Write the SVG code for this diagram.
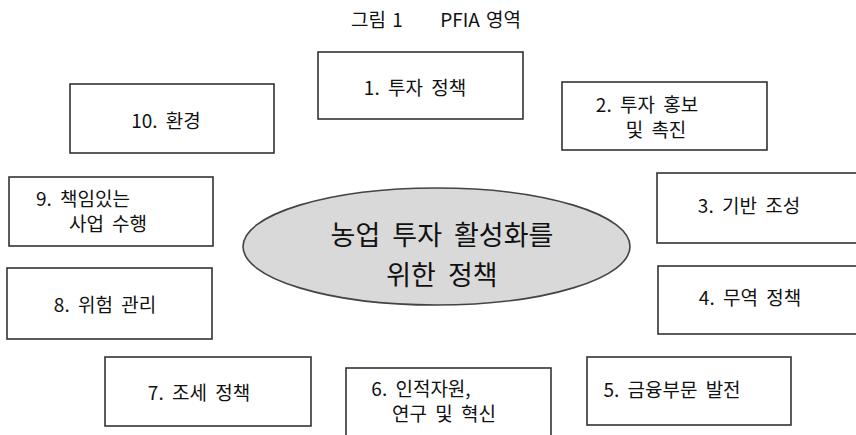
<svg xmlns="http://www.w3.org/2000/svg" width="856" height="435" viewBox="0 0 856 435">
<style>
.box{fill:#fff;stroke:#333;stroke-width:1.6}
.t{font-family:"Noto Sans CJK KR","Noto Sans",sans-serif;font-size:19px;fill:#111;text-anchor:middle;word-spacing:4px}
.c{font-size:27px;word-spacing:6px}
</style>
<rect width="856" height="435" fill="#fff"/>
<text class="t" x="436" y="27" style="font-size:19px;word-spacing:2px" xml:space="preserve">그림 1      PFIA 영역</text>
<g id="center">
<ellipse cx="436.5" cy="246.5" rx="193.5" ry="58.5" fill="#d9d9d9" stroke="#444" stroke-width="1.6"/>
<text class="t c" x="442" y="245">농업 투자 활성화를</text>
<text class="t c" x="442" y="285">위한 정책</text>
</g>
<g id="n1"><rect class="box" x="318" y="52" width="205" height="67"/><text class="t" x="415" y="95">1. 투자 정책</text></g>
<g id="n2"><rect class="box" x="562" y="82" width="205" height="68"/><text class="t" x="647" y="112">2. 투자 홍보</text><text class="t" x="656" y="137">및 촉진</text></g>
<g id="n3"><rect class="box" x="657" y="173" width="215" height="70"/><text class="t" x="749" y="213">3. 기반 조성</text></g>
<g id="n4"><rect class="box" x="658" y="266" width="215" height="68"/><text class="t" x="750" y="305">4. 무역 정책</text></g>
<g id="n5"><rect class="box" x="587" y="357" width="204" height="68"/><text class="t" x="672" y="397">5. 금융부문 발전</text></g>
<g id="n6"><rect class="box" x="346" y="368" width="205" height="75"/><text class="t" x="421" y="396">6. 인적자원,</text><text class="t" x="444" y="421">연구 및 혁신</text></g>
<g id="n7"><rect class="box" x="105" y="357" width="206" height="69"/><text class="t" x="199" y="400">7. 조세 정책</text></g>
<g id="n8"><rect class="box" x="7" y="268" width="205" height="71"/><text class="t" x="105" y="312">8. 위험 관리</text></g>
<g id="n9"><rect class="box" x="9" y="177" width="204" height="69"/><text class="t" x="83" y="206">9. 책임있는</text><text class="t" x="108" y="231">사업 수행</text></g>
<g id="n10"><rect class="box" x="70" y="84" width="204" height="69"/><text class="t" x="166" y="128">10. 환경</text></g>
<g id="connectors"/>
</svg>
